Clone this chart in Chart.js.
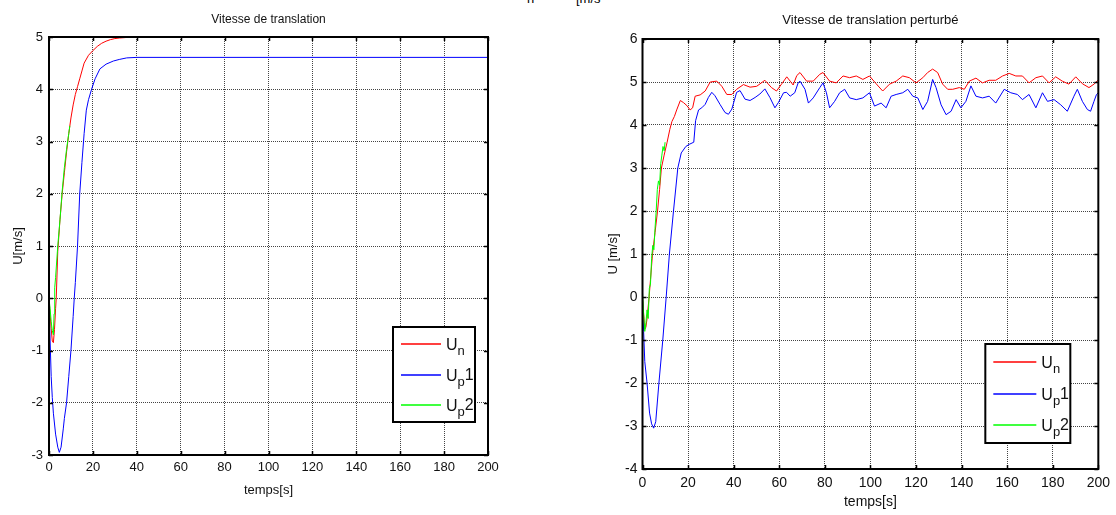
<!DOCTYPE html>
<html>
<head>
<meta charset="utf-8">
<script src="https://cdn.jsdelivr.net/npm/chart.js@4.4.1/dist/chart.umd.min.js"></script>
<style>
  html, body { margin: 0; padding: 0; background: #fff; }
  body { width: 1116px; height: 515px; position: relative; overflow: hidden; font-family: "Liberation Sans", Arial, sans-serif; }
  canvas { position: absolute; top: 0; }
  #left { left: 0; }
  #right { left: 560px; }
  .clip { position: absolute; top: 0; height: 6px; overflow: hidden; font-size: 13px; color: #000; line-height: 13px; }
  .clip span { position: relative; top: -8px; }
</style>
</head>
<body>
<div class="clip" style="left:527px"><span>n</span></div>
<div class="clip" style="left:576px"><span>[m/s</span></div>
<canvas id="left" width="540" height="515"></canvas>
<canvas id="right" width="556" height="515"></canvas>
<script>
// left plot: Vitesse de translation
const leftTimeN = [0, 0.5, 1, 1.5, 2, 2.5, 3, 3.3, 4, 5, 6, 7, 8, 9, 10, 11, 12, 13, 14, 15, 16, 18, 20, 22, 24, 26, 28, 30, 32, 35, 38, 40, 200];
const leftUn = [0, -0.3, -0.58, -0.82, -0.85, -0.6, -0.2, 0, 0.9, 1.5, 2.0, 2.4, 2.8, 3.15, 3.45, 3.7, 3.9, 4.05, 4.2, 4.35, 4.5, 4.65, 4.74, 4.82, 4.88, 4.92, 4.95, 4.97, 4.98, 4.99, 5, 5, 5];

const leftTimeP1 = [0, 0.5, 1, 1.5, 2, 3, 4, 4.7, 5.5, 6.5, 7, 8, 9, 10, 11, 11.5, 12, 13, 14, 15, 16, 17, 18, 19.4, 21, 23.2, 26, 29.3, 32, 35.4, 40, 200];
const leftUp1 = [0, -0.8, -1.5, -1.9, -2.2, -2.6, -2.85, -2.95, -2.85, -2.5, -2.3, -2.0, -1.5, -1.0, -0.35, 0, 0.3, 1.0, 2.0, 2.6, 3.15, 3.6, 3.8, 4.0, 4.2, 4.39, 4.48, 4.54, 4.57, 4.6, 4.61, 4.61];

const leftTimeP2 = [0, 0.5, 1, 1.5, 2, 2.3, 2.6, 3, 4, 5, 6, 7, 8, 9, 9.5];
const leftUp2 = [0, -0.2, -0.45, -0.62, -0.7, -0.3, 0.2, 0.4, 1.0, 1.5, 2.05, 2.5, 2.85, 3.15, 3.3];

// right plot: Vitesse de translation perturbé
const rightTimeN = [0, 0.5, 1, 1.5, 2, 2.9, 3.5, 4.4, 5.5, 6.6,
  7.5, 8.3, 9.5, 10.8, 12, 12.9, 14, 15, 16.6, 18,
  19.5, 20.9, 22, 23.1, 25.3, 27.5, 29.7, 32.6, 34.8, 37,
  39.2, 41.3, 44.3, 47.2, 50.1, 53.7, 56.6, 58.8, 61, 63.3,
  64.8, 66.1, 67.7, 69.1, 72, 74.9, 77.8, 79.2, 82.1, 85,
  88, 90.9, 93.8, 96.7, 99.6, 102.5, 105.4, 108.4, 111.3, 114.2,
  117.1, 120, 123, 125.1, 127.3, 129.5, 131.7, 133.9, 136.1, 139,
  141.2, 143.4, 146.3, 149.2, 152.1, 155, 158, 160.9, 163.8, 166.7,
  169.6, 172.6, 175.5, 178.4, 181.3, 184.2, 187.1, 190.1, 193, 195.9,
  198.1, 200];
const rightUn = [0, -0.4, -0.75, -0.7, -0.5, 0, 0.4, 1.0, 1.5, 2.0,
  2.5, 3.0, 3.3, 3.6, 3.9, 4.08, 4.2, 4.35, 4.57, 4.52,
  4.45, 4.35, 4.4, 4.67, 4.7, 4.79, 5.0, 5.02, 4.9, 4.71,
  4.71, 4.83, 4.94, 4.88, 4.9, 5.04, 4.87, 4.79, 4.95, 5.12,
  5.02, 4.93, 5.15, 5.22, 5.02, 5.02, 5.18, 5.22, 5.02, 4.98,
  5.14, 5.1, 5.14, 5.06, 5.14, 4.96, 4.79, 4.95, 5.02, 5.14,
  5.1, 4.98, 5.1, 5.22, 5.3, 5.22, 4.95, 4.83, 4.83, 4.87,
  4.83, 5.02, 5.09, 4.98, 5.04, 5.04, 5.14, 5.2, 5.14, 5.14,
  4.98, 5.1, 5.14, 4.98, 5.12, 5.02, 4.95, 5.12, 4.96, 4.87,
  4.95, 5.05];

const rightTimeP1 = [0, 0.5, 1, 2, 3.1, 4, 4.9, 5.8, 7.2, 8.9,
  10.4, 11.8, 13.6, 15.5, 17, 19, 20.5, 22.5, 23.3, 24.6,
  26, 27.5, 28.9, 30.4, 31.8, 34, 36.2, 37.7, 39.2, 41.3,
  42.8, 45, 47.2, 49.4, 51.5, 53.7, 55.9, 58.1, 59.6, 61.9,
  63.2, 64.8, 66.8, 68.3, 69.1, 71.3, 72.8, 74.9, 77.8, 79.2,
  80.7, 82.1, 84.3, 86.5, 88.7, 90.9, 93.8, 96.7, 99.6, 101.8,
  104.7, 106.9, 109.1, 111.3, 114.2, 116.4, 118.6, 120.8, 123, 125.1,
  127.3, 128.8, 131, 133.2, 135.4, 137.6, 139.7, 141.9, 144.1, 146.3,
  149.2, 152.1, 155, 158.7, 161.6, 164.5, 166.7, 169.6, 172.6, 175.5,
  177.7, 180.6, 183.5, 186.4, 189.3, 190.8, 193, 195.2, 196.6, 198.1,
  199.2, 200];
const rightUp1 = [0, -0.8, -1.5, -2.0, -2.7, -2.95, -3.05, -2.9, -2.0, -1.0,
  0, 1.0, 2.0, 3.0, 3.35, 3.5, 3.55, 3.6, 4.1, 4.35,
  4.4, 4.48, 4.64, 4.76, 4.68, 4.48, 4.29, 4.25, 4.37, 4.76,
  4.8, 4.6, 4.57, 4.64, 4.72, 4.84, 4.64, 4.4, 4.52, 4.75,
  4.76, 4.67, 4.75, 4.98, 5.02, 4.83, 4.51, 4.63, 4.87, 4.98,
  4.75, 4.4, 4.55, 4.75, 4.83, 4.63, 4.59, 4.63, 4.75, 4.44,
  4.51, 4.4, 4.67, 4.71, 4.75, 4.83, 4.67, 4.63, 4.36, 4.55,
  5.06, 4.87, 4.47, 4.24, 4.32, 4.59, 4.4, 4.55, 4.91, 4.67,
  4.63, 4.67, 4.51, 4.83, 4.75, 4.71, 4.59, 4.71, 4.4, 4.75,
  4.55, 4.59, 4.47, 4.32, 4.67, 4.83, 4.55, 4.36, 4.32, 4.55,
  4.71, 4.75];

const rightTimeP2 = [0, 0.5, 1, 1.5, 2, 2.5, 3, 3.5, 4, 4.5, 5, 5.5, 6, 6.5, 7, 7.5, 8, 8.5, 9, 9.5, 9.9];
const rightUp2 = [0.1, -0.4, -0.8, -0.6, -0.3, -0.5, 0.2, 0.3, 0.9, 1.2, 1.1, 1.6, 2.0, 2.5, 2.7, 2.6, 3.1, 3.3, 3.5, 3.4, 3.6];

// legend text: main letter, subscript, tail
const legendMain = ['U', 'U', 'U'];
const legendSub = ['n', 'p', 'p'];
const legendTail = ['', '1', '2'];
const seriesColors = ['#ff0000', '#0000ff', '#00ff00'];

const FONT = '"Liberation Sans", Arial, sans-serif';

function toPoints(t, v) {
    return t.map((x, i) => ({ x: x, y: v[i] }));
}

// box round the axes, inward ticks, and the legend box
const framePlugin = {
    id: 'frame',
    afterDraw(chart, args, opts) {
        const { ctx, chartArea: a, scales } = chart;
        ctx.save();
        ctx.strokeStyle = '#000';
        ctx.lineWidth = 1.5;
        ctx.beginPath();
        scales.x.ticks.forEach(t => {
            const px = Math.round(scales.x.getPixelForValue(t.value)) + 0.5;
            ctx.moveTo(px, a.bottom); ctx.lineTo(px, a.bottom - 4);
            ctx.moveTo(px, a.top); ctx.lineTo(px, a.top + 4);
        });
        scales.y.ticks.forEach(t => {
            const py = Math.round(scales.y.getPixelForValue(t.value)) + 0.5;
            ctx.moveTo(a.left, py); ctx.lineTo(a.left + 4, py);
            ctx.moveTo(a.right, py); ctx.lineTo(a.right - 4, py);
        });
        ctx.stroke();
        ctx.lineWidth = 2;
        ctx.strokeRect(a.left, a.top, a.right - a.left, a.bottom - a.top);

        // legend
        const lg = opts.legend;
        const bx = a.right - lg.right - lg.width;
        const by = a.bottom - lg.bottom - lg.height;
        ctx.fillStyle = '#fff';
        ctx.fillRect(bx, by, lg.width, lg.height);
        ctx.lineWidth = 2;
        ctx.strokeStyle = '#000';
        ctx.strokeRect(bx, by, lg.width, lg.height);
        const rows = [0.18, 0.5, 0.82];
        chart.data.datasets.forEach((ds, i) => {
            const y = Math.round(by + lg.height * rows[i]);
            ctx.strokeStyle = ds.borderColor;
            ctx.lineWidth = 1.4;
            ctx.beginPath();
            ctx.moveTo(bx + 8, y);
            ctx.lineTo(bx + 8 + lg.line, y);
            ctx.stroke();
            let tx = bx + 8 + lg.line + 5;
            ctx.fillStyle = '#111';
            ctx.textBaseline = 'alphabetic';
            ctx.font = lg.font + 'px ' + FONT;
            ctx.fillText(legendMain[i], tx, y + 6);
            tx += ctx.measureText(legendMain[i]).width;
            ctx.font = (lg.font - 3) + 'px ' + FONT;
            ctx.fillText(legendSub[i], tx, y + 11);
            tx += ctx.measureText(legendSub[i]).width;
            ctx.font = lg.font + 'px ' + FONT;
            ctx.fillText(legendTail[i], tx, y + 5);
        });
        ctx.restore();
    }
};

function buildChart(id, cfg) {
    const ctx = document.getElementById(id).getContext('2d');
    return new Chart(ctx, {
        type: 'line',
        data: {
            datasets: [
                { label: 'Un', data: toPoints(cfg.tn, cfg.un), borderColor: seriesColors[0], order: 1 },
                { label: 'Up1', data: toPoints(cfg.t1, cfg.u1), borderColor: seriesColors[1], order: 2 },
                { label: 'Up2', data: toPoints(cfg.t2, cfg.u2), borderColor: seriesColors[2], order: 0 }
            ].map(d => Object.assign(d, { borderWidth: 1, pointRadius: 0, tension: 0, fill: false }))
        },
        options: {
            responsive: false,
            animation: false,
            events: [],
            layout: { padding: { left: 0, right: cfg.padRight, top: 0, bottom: 0 } },
            plugins: {
                legend: { display: false },
                tooltip: { enabled: false },
                title: {
                    display: true,
                    text: cfg.title,
                    fullSize: false,
                    color: '#111',
                    font: { family: FONT, size: cfg.titleSize, weight: 'normal' },
                    padding: cfg.titlePad
                },
                frame: { legend: cfg.legend }
            },
            scales: {
                x: {
                    type: 'linear',
                    min: 0,
                    max: 200,
                    afterFit: s => { s.height = cfg.xHeight; },
                    ticks: { stepSize: 20, color: '#111', padding: cfg.xTickPad, maxRotation: 0, font: { family: FONT, size: cfg.tickSize } },
                    grid: { color: '#444', lineWidth: 1, drawTicks: false },
                    border: { display: false, dash: [1, 1] },
                    title: { display: true, text: 'temps[s]', color: '#111', font: { family: FONT, size: cfg.tickSize }, padding: { top: 0, bottom: cfg.xTitlePad } }
                },
                y: {
                    min: cfg.yMin,
                    max: cfg.yMax,
                    afterFit: s => { s.width = cfg.yWidth; },
                    ticks: { stepSize: 1, color: '#111', padding: cfg.yTickPad, font: { family: FONT, size: cfg.tickSize } },
                    grid: { color: '#444', lineWidth: 1, drawTicks: false },
                    border: { display: false, dash: [1, 1] },
                    title: { display: true, text: cfg.yLabel, color: '#111', font: { family: FONT, size: 13 }, padding: { top: cfg.yTitlePad, bottom: 0 } }
                }
            }
        },
        plugins: [framePlugin]
    });
}

buildChart('left', {
    tn: leftTimeN, un: leftUn, t1: leftTimeP1, u1: leftUp1, t2: leftTimeP2, u2: leftUp2,
    title: 'Vitesse de translation', titleSize: 12, titlePad: { top: 12, bottom: 10.6 },
    yLabel: 'U[m/s]', yMin: -3, yMax: 5,
    padRight: 52, yWidth: 49, xHeight: 60,
    tickSize: 13, xTickPad: 5, yTickPad: 6, xTitlePad: 17, yTitlePad: 11,
    legend: { right: 13, bottom: 33, width: 82, height: 95, line: 40, font: 16 }
});

buildChart('right', {
    tn: rightTimeN, un: rightUn, t1: rightTimeP1, u1: rightUp1, t2: rightTimeP2, u2: rightUp2,
    title: 'Vitesse de translation perturbé', titleSize: 13, titlePad: { top: 13, bottom: 10.4 },
    yLabel: 'U [m/s]', yMin: -4, yMax: 6,
    padRight: 17, yWidth: 82.5, xHeight: 46,
    tickSize: 14, xTickPad: 6, yTickPad: 5, xTitlePad: 4, yTitlePad: 46,
    legend: { right: 28, bottom: 26, width: 85, height: 99, line: 43, font: 16 }
});
</script>
</body>
</html>
